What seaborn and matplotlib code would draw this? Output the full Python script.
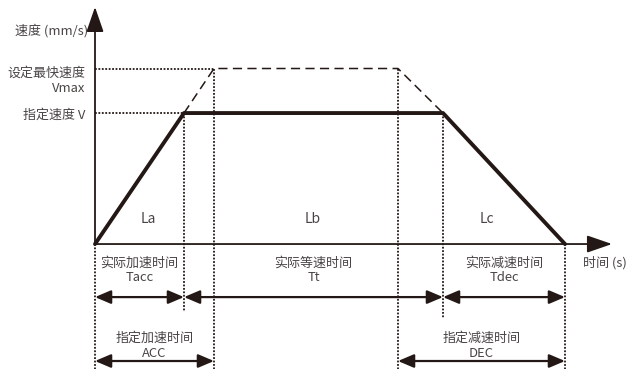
import numpy as np
import pandas as pd
import matplotlib
matplotlib.use("Agg")
import matplotlib.pyplot as plt
import seaborn as sns

# Speed profile data (time in arbitrary units, speed relative to V)
t_actual = [0, 0.89, 3.48, 4.70]
v_actual = [0, 1.0, 1.0, 0]
t_setting = [0.89, 1.19, 3.03, 3.48]
v_setting = [1.0, 1.34, 1.34, 1.0]

V = 1.0
VMAX = 1.34

region_labels = ["La", "Lb", "Lc"]
actual_spans = [(0, 0.89), (0.89, 3.48), (3.48, 4.70)]
actual_labels = ["实际加速时间\nTacc", "实际等速时间\nTt", "实际减速时间\nTdec"]
set_spans = [(0, 1.19), (3.03, 4.70)]
set_labels = ["指定加速时间\nACC", "指定减速时间\nDEC"]

LINE = "#231815"
TEXT = "#4a4545"
FS = 9.4

sns.set_style("white")
plt.rcParams["font.family"] = ["Noto Sans CJK SC", "DejaVu Sans"]

fig = plt.figure(figsize=(6.26, 3.69), dpi=100)
ax = fig.add_axes([0, 0, 1, 1])
ax.set_xlim(-0.95, 5.31)
ax.set_ylim(-0.954, 1.863)
ax.axis("off")

# axes with arrows
ax.annotate("", xy=(0, 1.81), xytext=(0, 0),
            arrowprops=dict(arrowstyle="-|>,head_length=1.1,head_width=0.38",
                            mutation_scale=14, lw=1.3, color=LINE,
                            shrinkA=0, shrinkB=0))
ax.annotate("", xy=(5.17, 0), xytext=(0, 0),
            arrowprops=dict(arrowstyle="-|>,head_length=1.1,head_width=0.38",
                            mutation_scale=14, lw=1.3, color=LINE,
                            shrinkA=0, shrinkB=0))

# profiles
df_act = pd.DataFrame({"t": t_actual, "v": v_actual})
df_set = pd.DataFrame({"t": t_setting, "v": v_setting})
sns.lineplot(data=df_act, x="t", y="v", ax=ax, color=LINE, lw=2.8,
             sort=False, estimator=None, zorder=5)
sns.lineplot(data=df_set, x="t", y="v", ax=ax, color=LINE, lw=1.1,
             sort=False, estimator=None, dashes=False, linestyle=(0, (6, 3.5)))

# guide lines (dotted)
dot = dict(color=LINE, lw=1.3, linestyle=(0, (1, 0.9)))
ax.plot([0, t_setting[1]], [VMAX, VMAX], **dot)
ax.plot([0, t_actual[1]], [V, V], **dot)
ax.plot([t_actual[0]] * 2, [0, -0.954], **dot)
ax.plot([t_actual[1]] * 2, [V, -0.52], **dot)
ax.plot([t_setting[1]] * 2, [VMAX, -0.954], **dot)
ax.plot([t_setting[2]] * 2, [VMAX, -0.954], **dot)
ax.plot([t_actual[2]] * 2, [V, -0.565], **dot)
ax.plot([t_actual[3]] * 2, [0, -0.954], **dot)

# dimension arrows
dim = dict(arrowstyle="<|-|>,head_length=0.8,head_width=0.34",
           mutation_scale=12, lw=1.6, color=LINE, shrinkA=0, shrinkB=0)
for (a, b), lab in zip(actual_spans, actual_labels):
    ax.annotate("", xy=(a, -0.405), xytext=(b, -0.405), arrowprops=dim)
    ax.text((a + b) / 2, -0.20, lab, ha="center", va="center",
            fontsize=FS, color=TEXT, linespacing=1.2)
for (a, b), lab in zip(set_spans, set_labels):
    ax.annotate("", xy=(a, -0.893), xytext=(b, -0.893), arrowprops=dim)
    ax.text((a + b) / 2, -0.78, lab, ha="center", va="center",
            fontsize=FS, color=TEXT, linespacing=1.2)

# region labels
for x, lab in zip([0.53, 2.18, 3.92], region_labels):
    ax.text(x, 0.19, lab, ha="center", va="center", fontsize=10, color=TEXT)

# axis labels
ax.text(-0.07, 1.63, "速度 (mm/s)", ha="right", va="center", fontsize=FS, color=TEXT)
ax.text(-0.10, 1.248, "设定最快速度\nVmax", ha="right", va="center",
        fontsize=FS, color=TEXT, linespacing=1.2)
ax.text(-0.10, 0.98, "指定速度 V", ha="right", va="center", fontsize=FS, color=TEXT)
ax.text(4.88, -0.145, "时间 (s)", ha="left", va="center", fontsize=FS, color=TEXT)

fig.savefig("out.png", dpi=100)
